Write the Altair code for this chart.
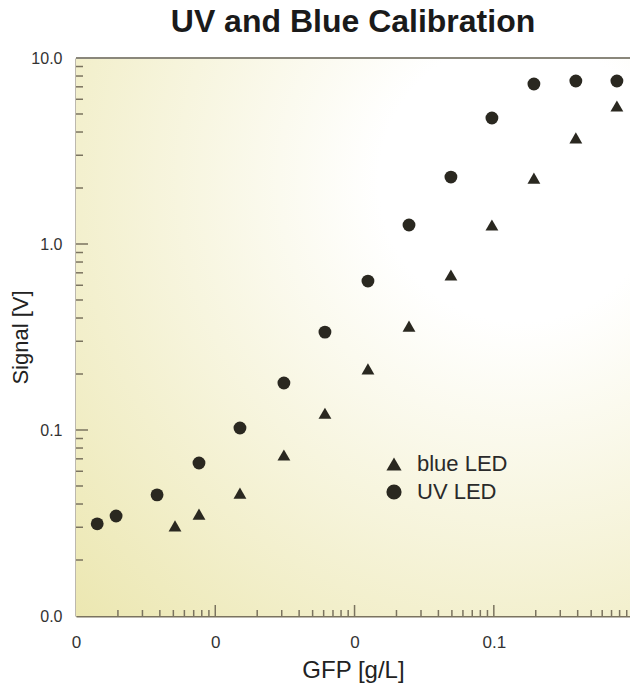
import altair as alt
import pandas as pd

# ---- data ----
uv_x = [0.000142, 0.000194, 0.000382, 0.000764, 0.001504, 0.00311, 0.00613,
        0.01248, 0.0246, 0.0492, 0.0969, 0.194, 0.388, 0.765]
uv_y = [0.0313, 0.0345, 0.0448, 0.0665, 0.1025, 0.179, 0.336,
        0.632, 1.265, 2.29, 4.76, 7.25, 7.52, 7.52]
blue_x = [0.000514, 0.000764, 0.001504, 0.00311, 0.00613, 0.01248,
          0.0246, 0.0492, 0.0969, 0.194, 0.388, 0.765]
blue_y = [0.0305, 0.0353, 0.0458, 0.0734, 0.123, 0.213,
          0.362, 0.681, 1.265, 2.26, 3.72, 5.52]

series_names = ["blue LED", "UV LED"]
series_shapes = ["triangle-up", "circle"]
title_text = "UV and Blue Calibration"

x_label_values = [0.0001, 0.001, 0.01, 0.1]
y_label_values = [0.01, 0.1, 1.0, 10.0]
x_major_ticks = [0.001, 0.01, 0.1]
y_major_ticks = [0.1, 1.0]
x_minor_ticks = [k * 10.0 ** e for e in (-4, -3, -2, -1) for k in range(2, 10) if k * 10.0 ** e < 0.95]
y_minor_ticks = [k * 10.0 ** e for e in (-2, -1, 0) for k in range(2, 10)]

W, H = 554, 558
FONT = "Liberation Sans"
INK = "#2a2820"
AXIS_COL = "#7a735f"

df = pd.DataFrame({
    "x": uv_x + blue_x,
    "y": uv_y + blue_y,
    "series": ["UV LED"] * len(uv_x) + ["blue LED"] * len(blue_x),
})

xscale = alt.Scale(type="log", domain=[0.0001, 0.95], nice=False)
yscale = alt.Scale(type="log", domain=[0.01, 10.0], nice=False)

xaxis = alt.Axis(values=x_label_values, format=".1~f", tickSize=0, grid=False,
                 domainColor=AXIS_COL, domainWidth=2, labelFont=FONT, labelFontSize=17,
                 labelColor="#333333", labelPadding=18, labelFlush=False,
                 title="GFP [g/L]", titleFont=FONT, titleFontSize=24, titleFontWeight="normal",
                 titleColor="#222222", titleY=61, titleBaseline="alphabetic")
yaxis = alt.Axis(values=y_label_values, format=".1f", tickSize=0, grid=False,
                 domainColor=AXIS_COL, domainWidth=2, labelFont=FONT, labelFontSize=16,
                 labelColor="#333333", labelPadding=14, labelFlush=False,
                 title="Signal [V]", titleFont=FONT, titleFontSize=22, titleFontWeight="normal",
                 titleColor="#222222", titleX=-44, titleY=H / 2, titleBaseline="bottom", titleAngle=270)

one = pd.DataFrame({"a": [0]})

bg = alt.Chart(one).mark_rect(
    color=alt.RadialGradient(
        gradient="radial", x1=0.8, y1=0.22, r1=0, x2=0.8, y2=0.22, r2=1.15,
        stops=[alt.GradientStop(offset=0, color="#ffffff"),
               alt.GradientStop(offset=0.22, color="#ffffff"),
               alt.GradientStop(offset=1, color="#ebe6ae")])
).encode(x=alt.value(0), x2=alt.value(W), y=alt.value(0), y2=alt.value(H))

top_border = alt.Chart(one).mark_rule(color="#8a877b", strokeWidth=2).encode(
    x=alt.value(0), x2=alt.value(W), y=alt.value(0))

title = alt.Chart(one).mark_text(
    text=title_text, font=FONT, fontSize=32, fontWeight="bold", color="#1a1a1a",
    align="center", baseline="alphabetic"
).encode(x=alt.value(W / 2), y=alt.value(-26))

xmaj = alt.Chart(pd.DataFrame({"x": x_major_ticks})).mark_rule(color=AXIS_COL, strokeWidth=1.5).encode(
    x=alt.X("x:Q", scale=xscale, axis=xaxis), y=alt.value(H), y2=alt.value(H - 11))
xmin = alt.Chart(pd.DataFrame({"x": x_minor_ticks})).mark_rule(color=AXIS_COL, strokeWidth=1.5).encode(
    x=alt.X("x:Q", scale=xscale, axis=xaxis), y=alt.value(H), y2=alt.value(H - 6))
ymaj = alt.Chart(pd.DataFrame({"y": y_major_ticks})).mark_rule(color=AXIS_COL, strokeWidth=1.5).encode(
    y=alt.Y("y:Q", scale=yscale, axis=yaxis), x=alt.value(0), x2=alt.value(12))
ymin = alt.Chart(pd.DataFrame({"y": y_minor_ticks})).mark_rule(color=AXIS_COL, strokeWidth=1.5).encode(
    y=alt.Y("y:Q", scale=yscale, axis=yaxis), x=alt.value(0), x2=alt.value(7))

points = alt.Chart(df).mark_point(filled=True, color=INK, opacity=1, size=165).encode(
    x=alt.X("x:Q", scale=xscale, axis=xaxis),
    y=alt.Y("y:Q", scale=yscale, axis=yaxis),
    shape=alt.Shape("series:N",
                    scale=alt.Scale(domain=series_names, range=series_shapes),
                    legend=alt.Legend(title=None, orient="none", legendX=307, legendY=395,
                                      symbolSize=230, symbolFillColor=INK, symbolStrokeWidth=0,
                                      labelFont=FONT, labelFontSize=22, labelColor="#2a2a2a",
                                      labelOffset=12, rowPadding=6)),
)

chart = alt.layer(bg, xmin, xmaj, ymin, ymaj, top_border, points, title).properties(
    width=W, height=H,
    autosize=alt.AutoSizeParams(type="none"),
    padding={"left": 76, "top": 58, "right": 0, "bottom": 73},
).configure_view(stroke=None)

chart.save("out.html", embed_options={"renderer": "svg", "actions": False})
